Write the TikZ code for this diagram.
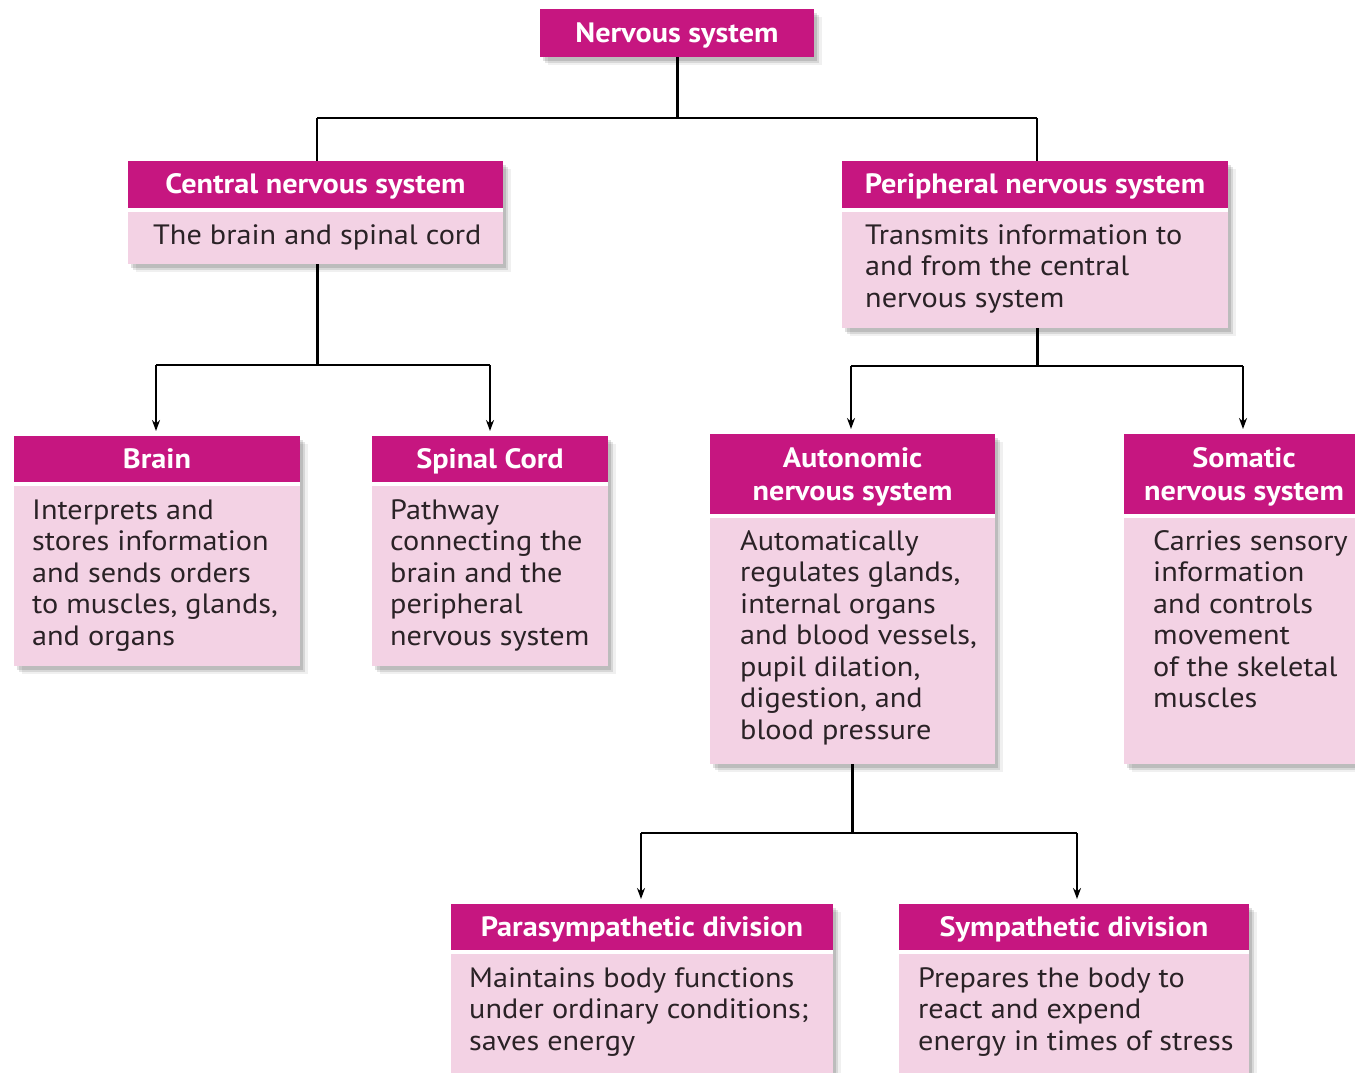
\documentclass[tikz,border=0pt]{standalone}
\usepackage{fontspec}
\setmainfont{PT Sans}[FakeStretch=1.08]
\usetikzlibrary{arrows.meta}
\definecolor{hdr}{RGB}{198,22,128}
\definecolor{bdy}{RGB}{243,210,228}
\definecolor{txt}{RGB}{42,34,38}
\begin{document}
\begin{tikzpicture}[x=1pt,y=-1pt,
  frame/.style={fill=white,inner sep=0,outer sep=0,anchor=north west,
    preaction={fill=black,opacity=.06,transform canvas={xshift=8pt,yshift=-8pt}},
    preaction={fill=black,opacity=.10,transform canvas={xshift=5pt,yshift=-6pt}},
    preaction={fill=black,opacity=.12,transform canvas={xshift=3pt,yshift=-4pt}}},
  hbox/.style={fill=hdr,inner sep=0,outer sep=0,anchor=north west,text=white,
    font=\bfseries\fontsize{28}{33}\selectfont,align=center,text depth=0pt},
  hone/.style={hbox,text height=18pt},
  bbox/.style={fill=bdy,inner sep=0,outer sep=0,anchor=north west},
  btext/.style={inner sep=0,anchor=base west,text=txt,align=left,
    font=\fontsize{28}{31.5}\selectfont},
  stem/.style={line width=3pt},
  bar/.style={line width=2pt},
  arr/.style={line width=2pt,-{Stealth[length=11pt,width=8pt]},shorten >=5pt}
]
\useasboundingbox (0,0) rectangle (1355,1072);
\fill[white] (0,0) rectangle (1355,1072);

% Nervous system
\node[frame,minimum width=274pt,minimum height=48pt] (nsf) at (540,9) {};
\node[hone,minimum width=274pt,minimum height=48pt] (ns) at (540,9) {Nervous system};

% Central nervous system
\node[frame,minimum width=375pt,minimum height=103pt] (cnsf) at (128,161) {};
\node[hone,minimum width=375pt,minimum height=47pt] (cnsh) at (128,161) {Central nervous system};
\node[bbox,minimum width=375pt,minimum height=52pt] (cnsb) at (128,212) {};
\node[btext] (cnst) at (153,244) {The brain and spinal cord};

% Peripheral nervous system
\node[frame,minimum width=386pt,minimum height=167pt] (pnsf) at (842,161) {};
\node[hone,minimum width=386pt,minimum height=47pt] (pnsh) at (842,161) {Peripheral nervous system};
\node[bbox,minimum width=386pt,minimum height=116pt] (pnsb) at (842,212) {};
\node[btext] (pnst) at (865,307) {Transmits information to\\and from the central\\nervous system};

% Brain
\node[frame,minimum width=286pt,minimum height=230pt] (brf) at (14,436) {};
\node[hone,minimum width=286pt,minimum height=46pt] (brh) at (14,436) {Brain};
\node[bbox,minimum width=286pt,minimum height=180pt] (brb) at (14,486) {};
\node[btext] (brt) at (32,645) {Interprets and\\stores information\\and sends orders\\to muscles, glands,\\and organs};

% Spinal cord
\node[frame,minimum width=236pt,minimum height=230pt] (scf) at (372,436) {};
\node[hone,minimum width=236pt,minimum height=46pt] (sch) at (372,436) {Spinal Cord};
\node[bbox,minimum width=236pt,minimum height=180pt] (scb) at (372,486) {};
\node[btext] (sct) at (390,645) {Pathway\\connecting the\\brain and the\\peripheral\\nervous system};

% Autonomic
\node[frame,minimum width=285pt,minimum height=330pt] (auf) at (710,434) {};
\node[hbox,minimum width=285pt,minimum height=80pt] (auh) at (710,434) {Autonomic\\nervous system};
\node[bbox,minimum width=285pt,minimum height=246pt] (aub) at (710,518) {};
\node[btext] (aut) at (740,739) {Automatically\\regulates glands,\\internal organs\\and blood vessels,\\pupil dilation,\\digestion, and\\blood pressure};

% Somatic
\node[frame,minimum width=240pt,minimum height=330pt] (sof) at (1124,434) {};
\node[hbox,minimum width=240pt,minimum height=80pt] (soh) at (1124,434) {Somatic\\nervous system};
\node[bbox,minimum width=240pt,minimum height=246pt] (sob) at (1124,518) {};
\node[btext] (sot) at (1153,707.5) {Carries sensory\\information\\and controls\\movement\\of the skeletal\\muscles};

% Parasympathetic
\node[frame,minimum width=382pt,minimum height=180pt] (paf) at (451,904) {};
\node[hone,minimum width=382pt,minimum height=46pt] (pah) at (451,904) {Parasympathetic division};
\node[bbox,minimum width=382pt,minimum height=130pt] (pab) at (451,954) {};
\node[btext] (pat) at (469,1050) {Maintains body functions\\under ordinary conditions;\\saves energy};

% Sympathetic
\node[frame,minimum width=350pt,minimum height=180pt] (syf) at (899,904) {};
\node[hone,minimum width=350pt,minimum height=46pt] (syh) at (899,904) {Sympathetic division};
\node[bbox,minimum width=350pt,minimum height=130pt] (syb) at (899,954) {};
\node[btext] (syt) at (918,1050) {Prepares the body to\\react and expend\\energy in times of stress};

% Junctions
\coordinate (j1) at (677,118);
\coordinate (j1l) at (317,118);
\coordinate (j1r) at (1037,118);
\coordinate (j2) at (317,365);
\coordinate (j2l) at (156,365);
\coordinate (j2r) at (490,365);
\coordinate (j3) at (1037,366);
\coordinate (j3l) at (851,366);
\coordinate (j3r) at (1243,366);
\coordinate (j4) at (852,833);
\coordinate (j4l) at (641,833);
\coordinate (j4r) at (1077,833);

% Connectors
\draw[stem] (ns.south) -- (j1);
\draw[bar] (j1l) -- (j1r);
\draw[bar] (j1l) -- (cnsh.north -| j1l);
\draw[bar] (j1r) -- (pnsh.north -| j1r);

\draw[stem] (cnsb.south -| j2) -- (j2);
\draw[bar] (j2l) -- (j2r);
\draw[arr] (j2l) -- (brh.north -| j2l);
\draw[arr] (j2r) -- (sch.north -| j2r);

\draw[stem] (pnsb.south -| j3) -- (j3);
\draw[bar] (j3l) -- (j3r);
\draw[arr] (j3l) -- (auh.north -| j3l);
\draw[arr] (j3r) -- (soh.north -| j3r);

\draw[stem] (aub.south -| j4) -- (j4);
\draw[bar] (j4l) -- (j4r);
\draw[arr] (j4l) -- (pah.north -| j4l);
\draw[arr] (j4r) -- (syh.north -| j4r);
\end{tikzpicture}
\end{document}
